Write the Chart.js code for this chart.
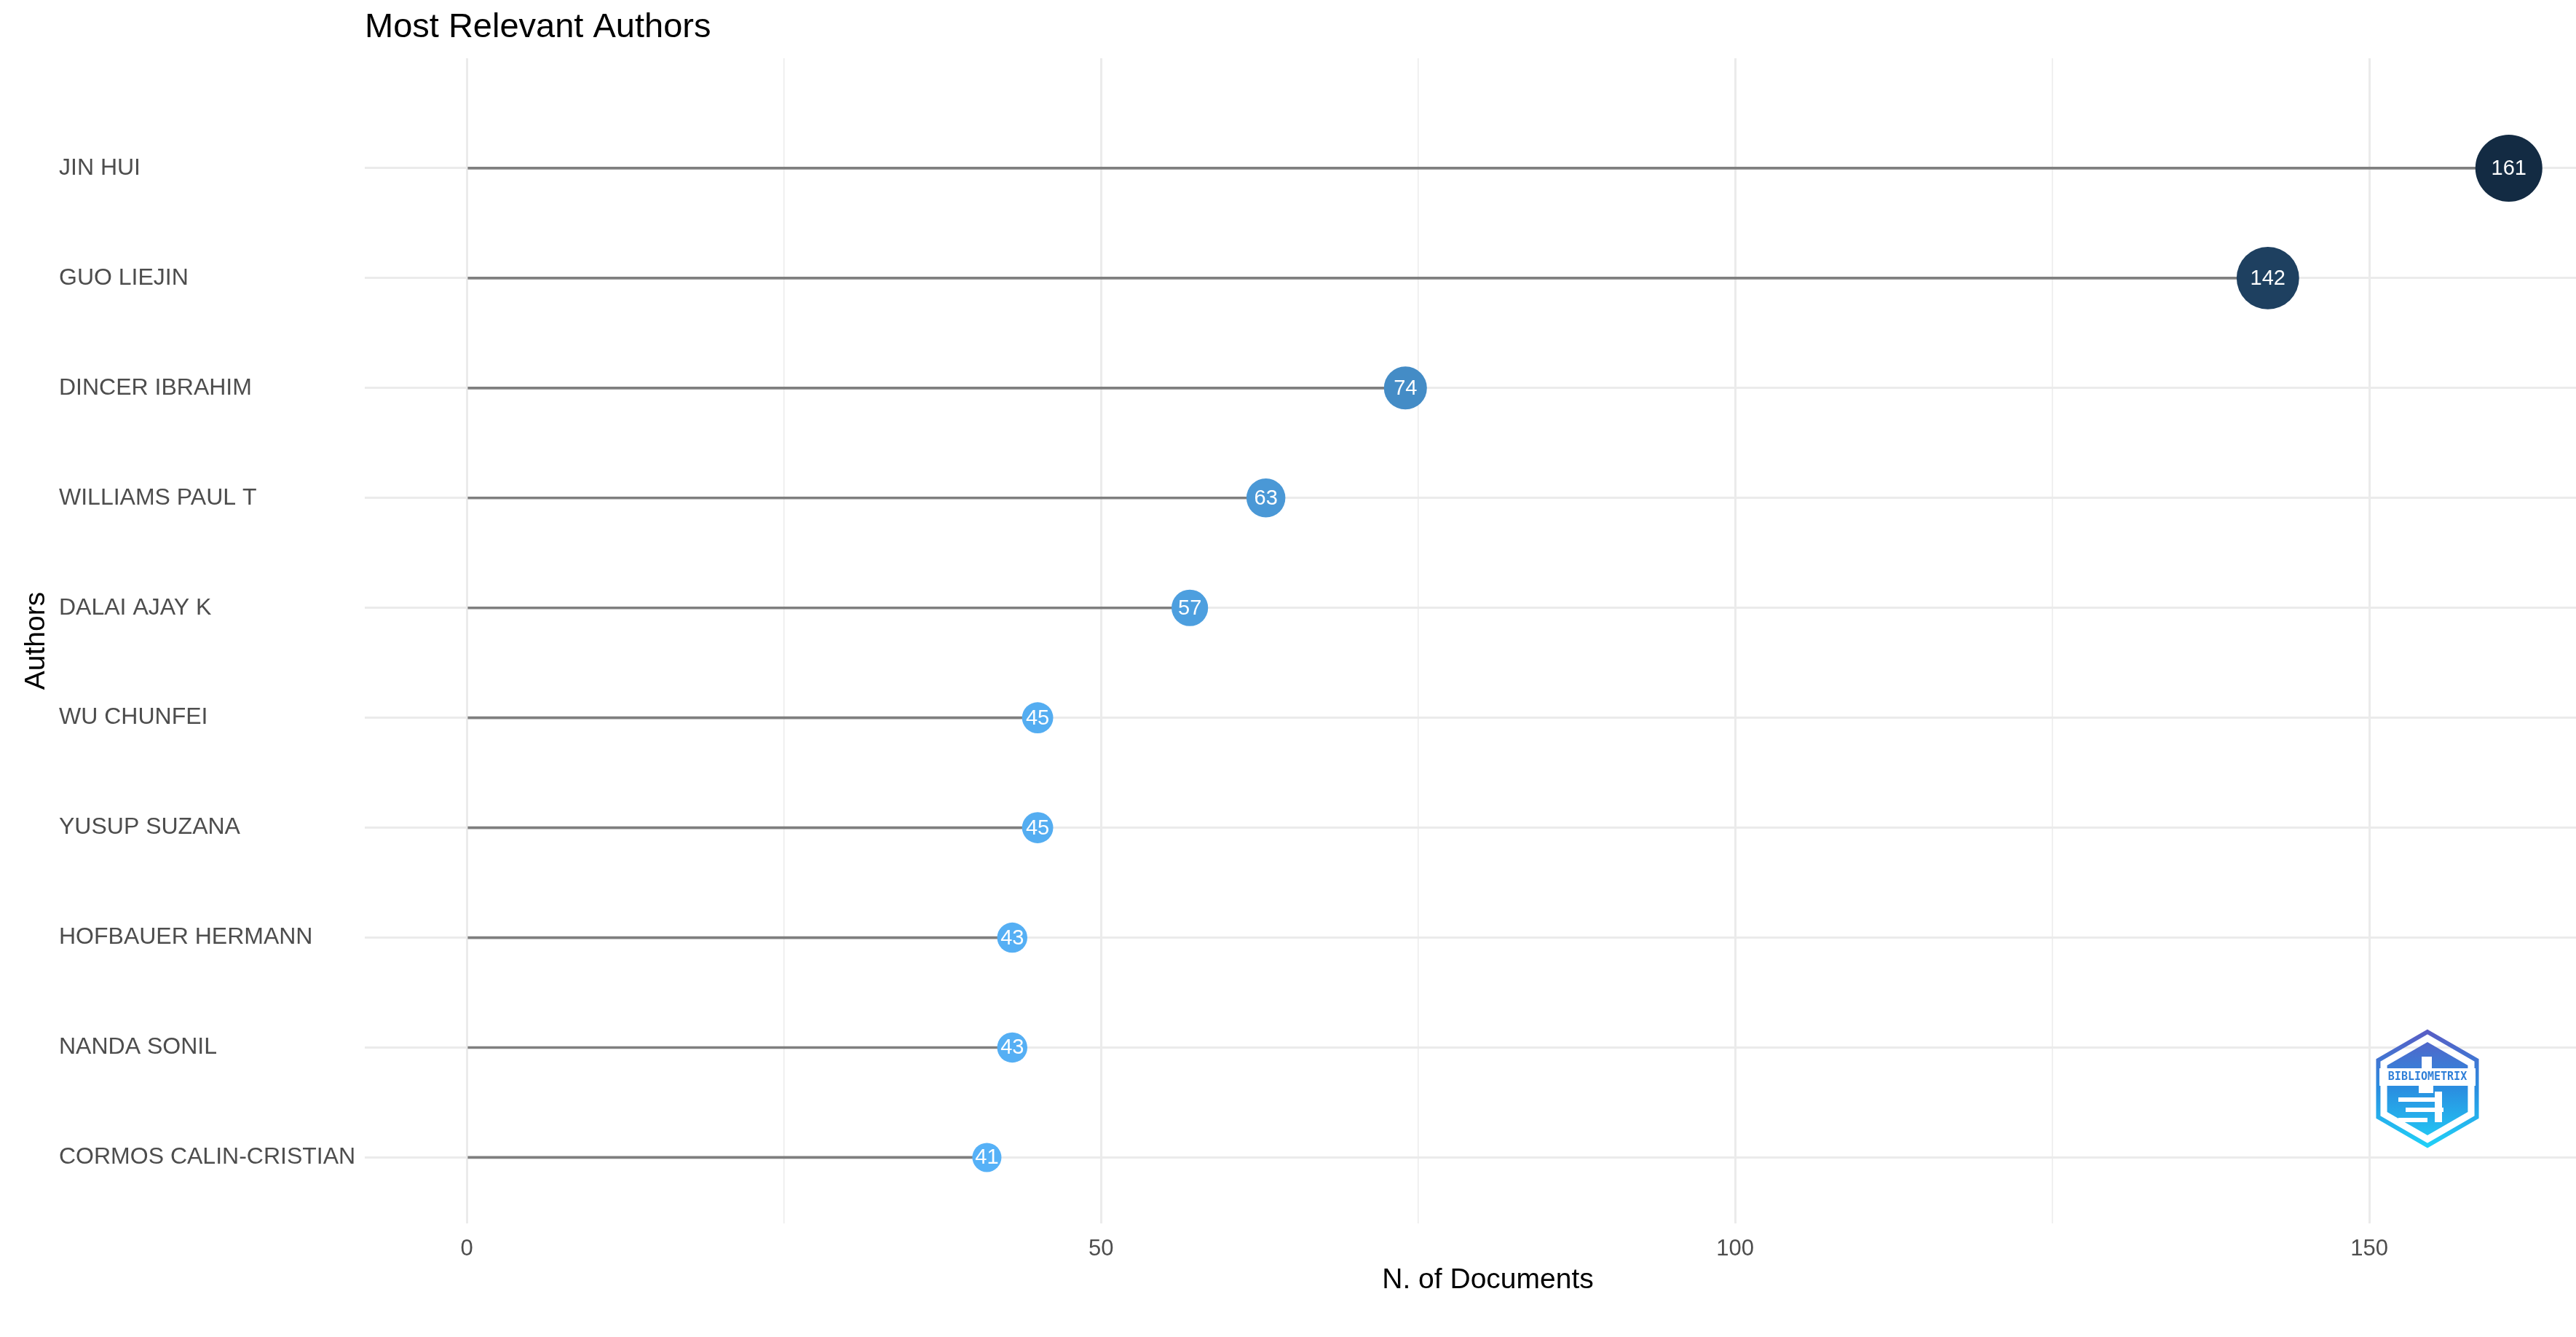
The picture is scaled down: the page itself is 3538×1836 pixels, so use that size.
<!DOCTYPE html>
<html lang="en">
<head>
    <meta charset="UTF-8">
    <title>Most Relevant Authors</title>
    <script src="https://cdn.jsdelivr.net/npm/chart.js"></script>
    <style>
        html, body { margin: 0; padding: 0; overflow: hidden; background: #fff; }
        /* panel runs a little past the right edge, as in the original export */
        #myChart { display: block; }
    </style>
</head>
<body>
    <canvas id="myChart" width="3586" height="1836"></canvas>
    <script>
        // data, top to bottom
        const authors = ['JIN HUI', 'GUO LIEJIN', 'DINCER IBRAHIM', 'WILLIAMS PAUL T', 'DALAI AJAY K',
            'WU CHUNFEI', 'YUSUP SUZANA', 'HOFBAUER HERMANN', 'NANDA SONIL', 'CORMOS CALIN-CRISTIAN'];
        const documents = [161, 142, 74, 63, 57, 45, 45, 43, 43, 41];

        const xTicks = [0, 25, 50, 75, 100, 125, 150];
        const xTickLabels = ['0', '', '50', '', '100', '', '150'];

        // row position: first author at the top
        const rowOf = i => authors.length - i;
        const segments = documents.map((v, i) => ({ x: v, y: rowOf(i) }));
        const points = documents.map((v, i) => ({ x: v, y: rowOf(i) }));

        const minDoc = Math.min(...documents);
        const maxDoc = Math.max(...documents);

        // light blue for few documents, dark navy for many
        function colorFor(v) {
            const lo = [86, 177, 247], hi = [19, 43, 67];
            const t = (v - minDoc) / (maxDoc - minDoc);
            const c = lo.map((a, k) => Math.round(a + (hi[k] - a) * t));
            return `rgb(${c[0]}, ${c[1]}, ${c[2]})`;
        }
        function radiusFor(v) {
            return Math.sqrt(14.3 * v - 186);
        }

        const FONT = '"Liberation Sans", Arial, sans-serif';
        Chart.defaults.font.family = FONT;

        // value labels, titles and the small logo
        const extras = {
            id: 'extras',
            afterDatasetsDraw(chart) {
                const ctx = chart.ctx;
                const meta = chart.getDatasetMeta(1);
                ctx.save();
                ctx.fillStyle = '#ffffff';
                ctx.font = `29px ${FONT}`;
                ctx.textAlign = 'center';
                ctx.textBaseline = 'middle';
                meta.data.forEach((pt, i) => {
                    ctx.fillText(String(documents[i]), pt.x, pt.y + 1);
                });
                ctx.restore();
            },
            afterDraw(chart) {
                const ctx = chart.ctx;
                const area = chart.chartArea;
                ctx.save();
                ctx.fillStyle = '#000000';
                ctx.font = `47px ${FONT}`;
                ctx.textAlign = 'left';
                ctx.textBaseline = 'middle';
                ctx.fillText('Most Relevant Authors', area.left, 38);

                ctx.translate(50, (area.top + area.bottom) / 2);
                ctx.rotate(-Math.PI / 2);
                ctx.font = `39px ${FONT}`;
                ctx.textAlign = 'center';
                ctx.fillText('Authors', 0, 0);
                ctx.restore();

                drawLogo(ctx, 3334, 1495);
            }
        };

        function hexPath(ctx, cx, cy, r) {
            ctx.beginPath();
            for (let k = 0; k < 6; k++) {
                const a = -Math.PI / 2 + k * Math.PI / 3;
                const px = cx + r * Math.cos(a), py = cy + r * Math.sin(a);
                if (k === 0) ctx.moveTo(px, py); else ctx.lineTo(px, py);
            }
            ctx.closePath();
        }

        function drawLogo(ctx, cx, cy) {
            ctx.save();
            const g = ctx.createLinearGradient(0, cy - 81, 0, cy + 81);
            g.addColorStop(0, '#5a5cc4');
            g.addColorStop(0.5, '#2a8ee0');
            g.addColorStop(1, '#20d2f8');
            hexPath(ctx, cx, cy, 78);
            ctx.strokeStyle = g;
            ctx.lineWidth = 6;
            ctx.stroke();
            hexPath(ctx, cx, cy, 64);
            ctx.fillStyle = g;
            ctx.fill();
            // white band behind the name
            ctx.fillStyle = '#ffffff';
            ctx.fillRect(cx - 66, cy - 28, 132, 24);
            ctx.fillStyle = '#2f7fd8';
            ctx.font = `bold 15px "DejaVu Sans Mono", monospace`;
            ctx.textAlign = 'center';
            ctx.textBaseline = 'middle';
            ctx.fillText('BIBLIOMETRIX', cx, cy - 16);
            // stylised steps
            ctx.fillStyle = '#ffffff';
            ctx.fillRect(cx - 8, cy - 44, 14, 16);
            ctx.fillRect(cx - 12, cy - 4, 20, 10);
            ctx.fillRect(cx - 40, cy + 12, 60, 6);
            ctx.fillRect(cx - 30, cy + 26, 52, 6);
            ctx.fillRect(cx - 40, cy + 40, 40, 6);
            ctx.fillRect(cx + 10, cy + 4, 10, 42);
            ctx.restore();
        }

        const ctx = document.getElementById('myChart').getContext('2d');
        const myChart = new Chart(ctx, {
            type: 'scatter',
            data: {
                datasets: [{
                    type: 'bar',
                    indexAxis: 'y',
                    data: segments,
                    backgroundColor: '#7f7f7f',
                    barThickness: 3,
                    order: 2
                }, {
                    type: 'scatter',
                    data: points,
                    pointRadius: c => radiusFor(documents[c.dataIndex]),
                    pointHoverRadius: c => radiusFor(documents[c.dataIndex]),
                    backgroundColor: c => colorFor(documents[c.dataIndex]),
                    borderWidth: 0,
                    order: 1
                }]
            },
            plugins: [extras],
            options: {
                responsive: false,
                devicePixelRatio: 1,
                animation: false,
                events: [],
                layout: { autoPadding: false, padding: { top: 80, left: 81, right: 0, bottom: 0 } },
                plugins: {
                    legend: { display: false },
                    tooltip: { enabled: false }
                },
                scales: {
                    x: {
                        type: 'linear',
                        min: -8.05,
                        max: 169.05,
                        offset: false,
                        afterBuildTicks: axis => { axis.ticks = xTicks.map(v => ({ value: v })); },
                        afterFit: axis => { axis.height = 156; },
                        border: { display: false },
                        grid: {
                            offset: false,
                            color: '#ebebeb',
                            lineWidth: c => (c.tick && c.tick.value % 50 === 0) ? 3 : 1.5,
                            drawTicks: false
                        },
                        ticks: {
                            padding: 17,
                            color: '#4d4d4d',
                            font: { size: 31 },
                            maxRotation: 0,
                            callback: (v) => xTickLabels[xTicks.indexOf(v)]
                        },
                        title: {
                            display: true,
                            text: 'N. of Documents',
                            color: '#000000',
                            font: { size: 39 },
                            padding: { top: 0, bottom: 54 }
                        }
                    },
                    y: {
                        type: 'linear',
                        min: 0.4,
                        max: 11,
                        offset: false,
                        afterBuildTicks: axis => { axis.ticks = authors.map((a, i) => ({ value: rowOf(i) })); },
                        afterFit: axis => { axis.width = 420; },
                        border: { display: false },
                        grid: { offset: false, color: '#ebebeb', lineWidth: 3, drawTicks: false },
                        ticks: {
                            crossAlign: 'far',
                            color: '#4d4d4d',
                            font: { size: 32 },
                            callback: (v) => authors[authors.length - v]
                        }
                    }
                }
            }
        });
    </script>
</body>
</html>
